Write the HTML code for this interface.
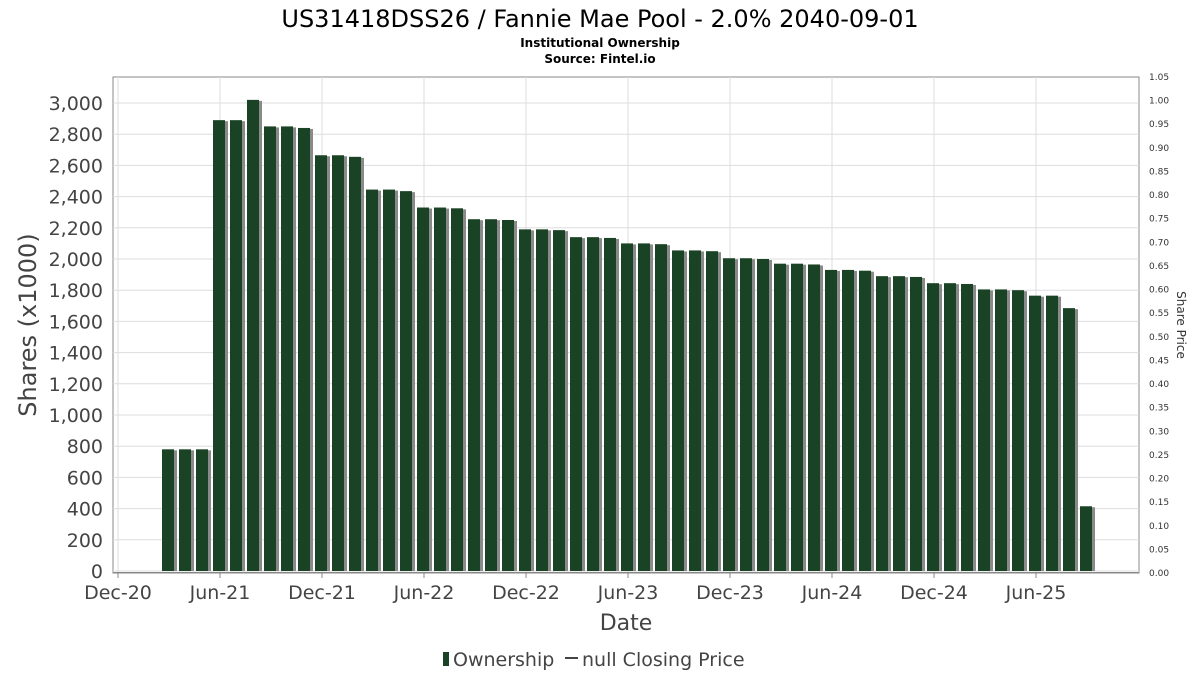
<!DOCTYPE html>
<html><head><meta charset="utf-8"><style>
body{margin:0;background:#fff;font-family:"DejaVu Sans","Liberation Sans",sans-serif}
</style></head><body>
<svg id="c" width="1200" height="675" xmlns="http://www.w3.org/2000/svg">
<text x="600" y="27" text-anchor="middle" font-size="24" fill="#000">US31418DSS26 / Fannie Mae Pool - 2.0% 2040-09-01</text>
<text x="600" y="47" text-anchor="middle" font-size="12" font-weight="bold">Institutional Ownership</text>
<text x="600" y="63" text-anchor="middle" font-size="12" font-weight="bold">Source: Fintel.io</text>
<rect x="113" y="77" width="1026" height="496" fill="#fff" stroke="#888"/>
<g id="grid"></g><g id="bars"></g><g id="axes"></g>
<text transform="translate(36,325) rotate(-90)" text-anchor="middle" font-size="24" fill="#444">Shares (x1000)</text>
<text transform="translate(1177,325) rotate(90)" text-anchor="middle" font-size="12" fill="#333">Share Price</text>
<text x="626" y="630" text-anchor="middle" font-size="22" fill="#444">Date</text>
<g>
<rect x="443" y="652" width="6" height="14" fill="#1a4224"/>
<text x="453" y="666" font-size="19" fill="#444">Ownership</text>
<line x1="565" y1="658" x2="578" y2="658" stroke="#444" stroke-width="2"/>
<text x="582" y="666" font-size="19" fill="#444">null Closing Price</text>
</g>
</svg>
<script>
const months=["Mar-21","Apr-21","May-21","Jun-21","Jul-21","Aug-21","Sep-21","Oct-21","Nov-21","Dec-21","Jan-22","Feb-22","Mar-22","Apr-22","May-22","Jun-22","Jul-22","Aug-22","Sep-22","Oct-22","Nov-22","Dec-22","Jan-23","Feb-23","Mar-23","Apr-23","May-23","Jun-23","Jul-23","Aug-23","Sep-23","Oct-23","Nov-23","Dec-23","Jan-24","Feb-24","Mar-24","Apr-24","May-24","Jun-24","Jul-24","Aug-24","Sep-24","Oct-24","Nov-24","Dec-24","Jan-25","Feb-25","Mar-25","Apr-25","May-25","Jun-25","Jul-25","Aug-25","Sep-25"];
const shares=[780,780,780,2890,2890,3020,2850,2850,2840,2665,2665,2655,2445,2445,2435,2330,2330,2325,2255,2255,2250,2190,2190,2185,2140,2140,2135,2100,2100,2095,2055,2055,2050,2005,2005,2000,1970,1970,1965,1930,1930,1925,1890,1890,1885,1845,1845,1840,1805,1805,1800,1765,1765,1685,415];
const yTicks=[0,200,400,600,800,1000,1200,1400,1600,1800,2000,2200,2400,2600,2800,3000];
const rTicks=[0,0.05,0.1,0.15,0.2,0.25,0.3,0.35,0.4,0.45,0.5,0.55,0.6,0.65,0.7,0.75,0.8,0.85,0.9,0.95,1.0,1.05];
const xLabels=["Dec-20","Jun-21","Dec-21","Jun-22","Dec-22","Jun-23","Dec-23","Jun-24","Dec-24","Jun-25"];
const NS="http://www.w3.org/2000/svg";
const y=v=>571-v*0.156;
const yr=v=>573-v*(496/1.05);
const x=i=>118+i*17.0;  // month index from Dec-20
function mk(t,a,p){const e=document.createElementNS(NS,t);for(const k in a)e.setAttribute(k,a[k]);p.appendChild(e);return e;}
const G=document.getElementById('grid'),B=document.getElementById('bars'),A=document.getElementById('axes');
yTicks.forEach(v=>{
 const l=mk('line',{x1:113,x2:1139,y1:y(v),y2:y(v),stroke:'#ddd'},G);
 
 
 const t=mk('text',{x:103,y:y(v)+7,'text-anchor':'end','font-size':19,fill:'#444'},A);
 t.textContent=v.toLocaleString('en-US');
 
 
});
rTicks.forEach(v=>{
 const t=mk('text',{x:1149,y:yr(v)+3,'font-size':9,fill:'#333'},A);
 t.textContent=v.toFixed(2);
 
 
});
xLabels.forEach((s,k)=>{
 const xi=x(k*6);
 const l=mk('line',{x1:xi,x2:xi,y1:77,y2:573,stroke:'#ddd'},G);
 
 
 const tk=mk('line',{x1:xi,x2:xi,y1:573,y2:578,stroke:'#888'},A);
 
 
 const t=mk('text',{x:xi,y:599,'text-anchor':'middle','font-size':19,fill:'#444'},A);
 t.textContent=s;
 
 
});
shares.forEach((v,i)=>{
 const cx=x(i+3)-1;
 const sh=mk('rect',{x:cx-6+3,y:y(v)+1,width:12,height:571-y(v)-1,fill:'#8a8a8a'},B);
 
 
 const r=mk('rect',{x:cx-6,y:y(v),width:12,height:571-y(v),fill:'#1a4224'},B);
 
 
});
const ax=mk('line',{x1:113,x2:1139,y1:572.5,y2:572.5,stroke:'#888'},A);


</script>
</body></html>
